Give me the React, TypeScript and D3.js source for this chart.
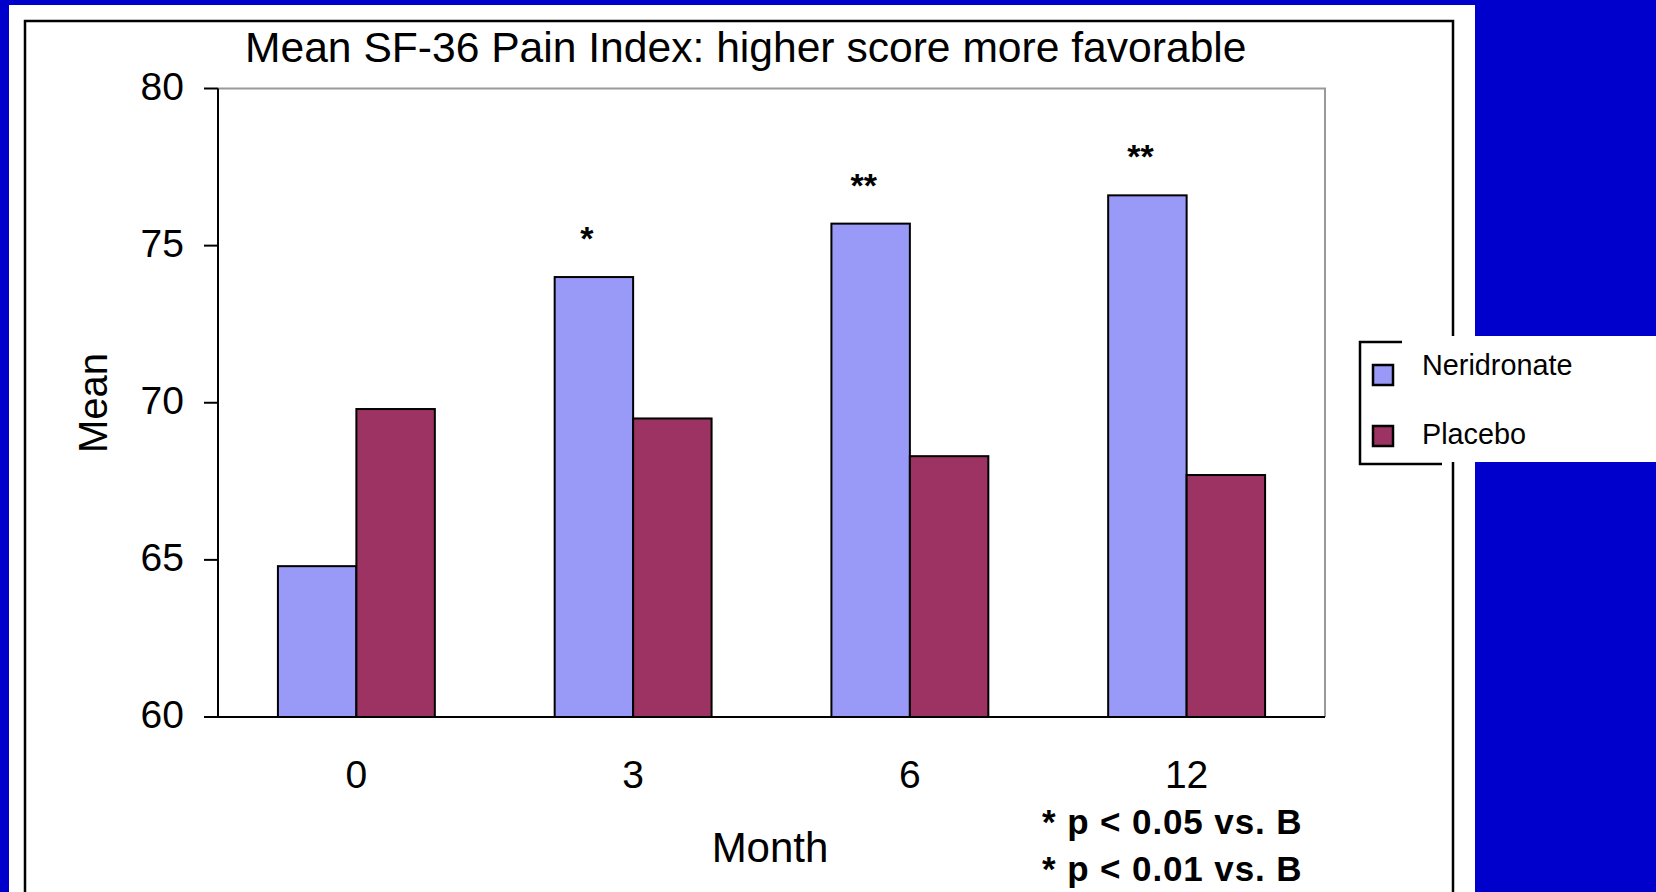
import React from "react";
import * as d3 from "d3";

// Mean SF-36 pain index by month of follow-up
const months = ["0", "3", "6", "12"];
const seriesNames = ["Neridronate", "Placebo"];
const neridronate = [64.8, 74.0, 75.7, 76.6];
const placebo = [69.8, 69.5, 68.3, 67.7];
const significance = ["", "*", "**", "**"];
const yTicks = [60, 65, 70, 75, 80];
const footnotes = ["* p < 0.05 vs. B", "* p < 0.01 vs. B"];

const W = 1656;
const H = 892;
const FONT = "'Liberation Sans', Arial, Helvetica, sans-serif";
const BLUE_BG = "#0000CC";
const COLORS = ["#9999F7", "#9C3363"];

export default function App() {
  const plot = { left: 218, right: 1325, top: 88.5, bottom: 717 };

  const y = d3.scaleLinear().domain([60, 80]).range([plot.bottom, plot.top]);
  const x0 = d3
    .scaleBand<string>()
    .domain(months)
    .range([plot.left, plot.right])
    .paddingInner(0.433)
    .paddingOuter(0.2165);
  const x1 = d3
    .scaleBand<string>()
    .domain(seriesNames)
    .range([0, x0.bandwidth()])
    .padding(0);

  const rows = months.map((m, i) => ({
    month: m,
    values: [neridronate[i], placebo[i]],
    sig: significance[i],
  }));

  return (
    <svg
      width={W}
      height={H}
      style={{ position: "absolute", left: 0, top: 0, display: "block" }}
      fontFamily={FONT}
    >
      {/* slide background and white panel */}
      <rect x={0} y={0} width={W} height={H} fill={BLUE_BG} />
      <rect x={9} y={5} width={1466} height={H} fill="#fff" />

      {/* outer chart frame */}
      <rect
        x={25}
        y={21}
        width={1428}
        height={H}
        fill="none"
        stroke="#000"
        strokeWidth={2.5}
      />

      {/* title */}
      <text x={245} y={61.5} fontSize={42.6} fill="#000">
        Mean SF-36 Pain Index: higher score more favorable
      </text>

      {/* plot border (top and right) */}
      <path
        d={`M${plot.left},${plot.top}H${plot.right}V${plot.bottom}`}
        fill="none"
        stroke="#999"
        strokeWidth={2}
      />

      {/* bars */}
      {rows.map((r) => (
        <g key={r.month} transform={`translate(${x0(r.month)},0)`}>
          {r.values.map((v, j) => (
            <rect
              key={seriesNames[j]}
              x={x1(seriesNames[j])}
              y={y(v)}
              width={x1.bandwidth()}
              height={y(60) - y(v)}
              fill={COLORS[j]}
              stroke="#000"
              strokeWidth={2}
            />
          ))}
          {r.sig && (
            <text
              x={(x1("Neridronate") as number) + x1.bandwidth() / 2 - 7}
              y={y(r.values[0]) - 27}
              textAnchor="middle"
              fontSize={34}
              fontWeight="bold"
              fill="#000"
            >
              {r.sig}
            </text>
          )}
        </g>
      ))}

      {/* y axis */}
      <line
        x1={plot.left}
        x2={plot.left}
        y1={plot.top}
        y2={plot.bottom}
        stroke="#000"
        strokeWidth={2}
      />
      {yTicks.map((t) => (
        <g key={t}>
          <line
            x1={plot.left - 14}
            x2={plot.left}
            y1={y(t)}
            y2={y(t)}
            stroke="#000"
            strokeWidth={2}
          />
          <text
            x={184}
            y={y(t) + 11}
            textAnchor="end"
            fontSize={39}
            fill="#000"
          >
            {t}
          </text>
        </g>
      ))}

      {/* x axis */}
      <line
        x1={plot.left - 14}
        x2={plot.right}
        y1={plot.bottom}
        y2={plot.bottom}
        stroke="#000"
        strokeWidth={2}
      />
      {months.map((m) => (
        <text
          key={m}
          x={(x0(m) as number) + x0.bandwidth() / 2}
          y={788}
          textAnchor="middle"
          fontSize={39}
          fill="#000"
        >
          {m}
        </text>
      ))}

      {/* axis titles */}
      <text
        transform="translate(107,403) rotate(-90)"
        textAnchor="middle"
        fontSize={40}
        fill="#000"
      >
        Mean
      </text>
      <text x={770} y={861.5} textAnchor="middle" fontSize={42} fill="#000">
        Month
      </text>

      {/* significance notes */}
      {footnotes.map((f, i) => (
        <text
          key={f}
          x={1042}
          y={834 + i * 47}
          fontSize={35}
          fontWeight="bold"
          letterSpacing={0.9}
          fill="#000"
        >
          {f}
        </text>
      ))}

      {/* legend */}
      <rect x={1402} y={336} width={W - 1402} height={126} fill="#fff" />
      <path
        d="M1402,342H1360V464H1442"
        fill="none"
        stroke="#000"
        strokeWidth={2.5}
      />
      {seriesNames.map((s, i) => (
        <g key={s}>
          <rect
            x={1373}
            y={365 + i * 61}
            width={20}
            height={20}
            fill={COLORS[i]}
            stroke="#000"
            strokeWidth={2.5}
          />
          <text x={1422} y={375 + i * 69} fontSize={28.8} fill="#000">
            {s}
          </text>
        </g>
      ))}
    </svg>
  );
}
